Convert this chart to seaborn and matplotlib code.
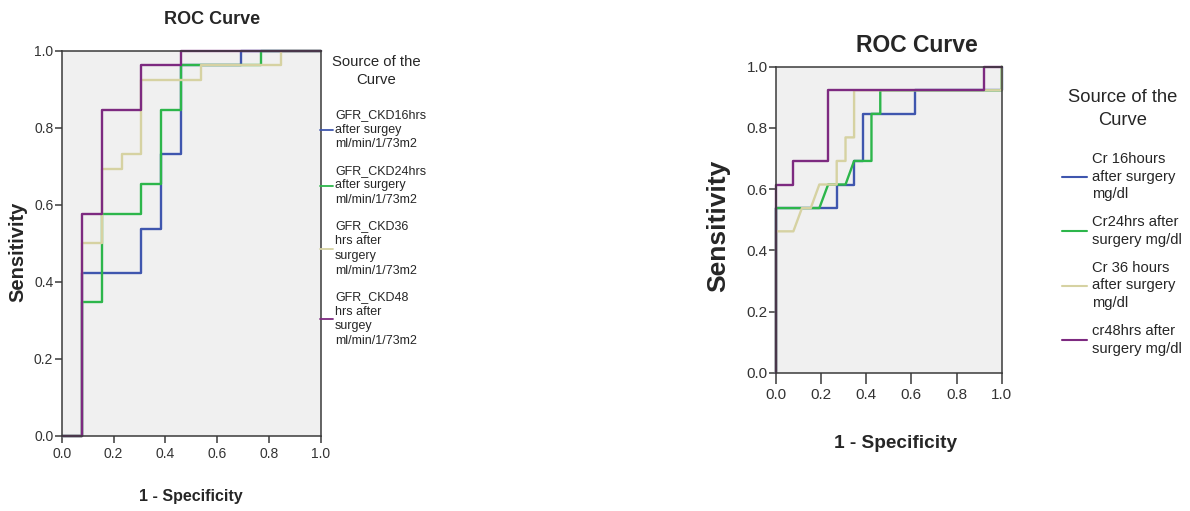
import pandas as pd
import numpy as np
import matplotlib
matplotlib.use("Agg")
import matplotlib.pyplot as plt
import seaborn as sns
from matplotlib.ticker import FormatStrFormatter

# ---- left chart: GFR_CKD (1 - specificity, sensitivity) step points ----
gfr16_fpr = [0.0, 0.077, 0.077, 0.308, 0.308, 0.385, 0.385, 0.462, 0.462, 0.692, 0.692, 1.0]
gfr16_tpr = [0.0, 0.0, 0.423, 0.423, 0.538, 0.538, 0.731, 0.731, 0.962, 0.962, 1.0, 1.0]
gfr24_fpr = [0.0, 0.077, 0.077, 0.154, 0.154, 0.308, 0.308, 0.385, 0.385, 0.462, 0.462, 0.769, 0.769, 1.0]
gfr24_tpr = [0.0, 0.0, 0.346, 0.346, 0.577, 0.577, 0.654, 0.654, 0.846, 0.846, 0.962, 0.962, 1.0, 1.0]
gfr36_fpr = [0.0, 0.077, 0.077, 0.154, 0.154, 0.231, 0.231, 0.308, 0.308, 0.538, 0.538, 0.846, 0.846, 1.0]
gfr36_tpr = [0.0, 0.0, 0.5, 0.5, 0.692, 0.692, 0.731, 0.731, 0.923, 0.923, 0.962, 0.962, 1.0, 1.0]
gfr48_fpr = [0.0, 0.077, 0.077, 0.154, 0.154, 0.308, 0.308, 0.462, 0.462, 1.0]
gfr48_tpr = [0.0, 0.0, 0.577, 0.577, 0.846, 0.846, 0.962, 0.962, 1.0, 1.0]
gfr_labels = ["GFR_CKD16hrs\nafter surgey\nml/min/1/73m2",
              "GFR_CKD24hrs\nafter surgery\nml/min/1/73m2",
              "GFR_CKD36\nhrs after\nsurgery\nml/min/1/73m2",
              "GFR_CKD48\nhrs after\nsurgey\nml/min/1/73m2"]

# ---- right chart: serum creatinine ----
cr16_fpr = [0.0, 0.0, 0.269, 0.269, 0.346, 0.346, 0.385, 0.385, 0.615, 0.615, 1.0, 1.0]
cr16_tpr = [0.0, 0.538, 0.538, 0.615, 0.615, 0.692, 0.692, 0.846, 0.846, 0.923, 0.923, 1.0]
cr24_fpr = [0.0, 0.0, 0.192, 0.231, 0.308, 0.346, 0.423, 0.423, 0.462, 0.462, 1.0, 1.0]
cr24_tpr = [0.0, 0.538, 0.538, 0.615, 0.615, 0.692, 0.692, 0.846, 0.846, 0.923, 0.923, 1.0]
cr36_fpr = [0.0, 0.0, 0.077, 0.115, 0.154, 0.192, 0.269, 0.269, 0.308, 0.308, 0.346, 0.346, 1.0, 1.0]
cr36_tpr = [0.0, 0.462, 0.462, 0.538, 0.538, 0.615, 0.615, 0.692, 0.692, 0.769, 0.769, 0.923, 0.923, 1.0]
cr48_fpr = [0.0, 0.0, 0.077, 0.077, 0.231, 0.231, 0.923, 0.923, 1.0]
cr48_tpr = [0.0, 0.615, 0.615, 0.692, 0.692, 0.923, 0.923, 1.0, 1.0]
cr_labels = ["Cr 16hours\nafter surgery\nmg/dl",
             "Cr24hrs after\nsurgery mg/dl",
             "Cr 36 hours\nafter surgery\nmg/dl",
             "cr48hrs after\nsurgery mg/dl"]

ticks = [0.0, 0.2, 0.4, 0.6, 0.8, 1.0]
colors = ["#3F56AE", "#2DB64B", "#D6D2A2", "#7D2A80"]

FONT = ["Liberation Sans", "DejaVu Sans"]

sns.set_style("white")
plt.rcParams["font.family"] = FONT


def make_df(fprs, tprs, labels):
    parts = []
    for f, t, lab in zip(fprs, tprs, labels):
        parts.append(pd.DataFrame({"fpr": f, "tpr": t, "curve": lab}))
    return pd.concat(parts, ignore_index=True)


def draw_roc(ax, df, labels, tick_size, xtick_len, ytick_len):
    ax.set_facecolor("#F0F0F0")
    sns.lineplot(data=df, x="fpr", y="tpr", hue="curve", hue_order=labels,
                 palette=colors, sort=False, estimator=None, linewidth=1.7,
                 legend=False, ax=ax)
    for ln in ax.get_lines():
        ln.set_clip_on(False)
    ax.set_xlim(0, 1)
    ax.set_ylim(0, 1)
    ax.set_xticks(ticks)
    ax.set_yticks(ticks)
    ax.xaxis.set_major_formatter(FormatStrFormatter("%.1f"))
    ax.yaxis.set_major_formatter(FormatStrFormatter("%.1f"))
    ax.set_xlabel("")
    ax.set_ylabel("")
    for s in ax.spines.values():
        s.set_color("#3A3A3A")
        s.set_linewidth(1.1)
        s.set_visible(True)
    ax.tick_params(axis="x", direction="out", length=xtick_len, width=1.1,
                   color="#3A3A3A", labelsize=tick_size, labelcolor="#333333", pad=3,
                   bottom=True)
    ax.tick_params(axis="y", direction="out", length=ytick_len, width=1.1,
                   color="#3A3A3A", labelsize=tick_size, labelcolor="#333333", pad=1,
                   left=True)


W, H = 1190, 511
fig = plt.figure(figsize=(W / 100, H / 100), dpi=100)

# left chart
ax1 = fig.add_axes([61.7 / W, 1 - 435.7 / H, 259 / W, 385 / H])
df_gfr = make_df([gfr16_fpr, gfr24_fpr, gfr36_fpr, gfr48_fpr],
                 [gfr16_tpr, gfr24_tpr, gfr36_tpr, gfr48_tpr], gfr_labels)
draw_roc(ax1, df_gfr, gfr_labels, 10, 5, 5)
fig.text(212 / W, 1 - 20 / H, "ROC Curve", ha="center", va="center",
         fontsize=13, fontweight="bold")
fig.text(191 / W, 1 - 496 / H, "1 - Specificity", ha="center", va="center",
         fontsize=11.5, fontweight="bold")
fig.text(18 / W, 1 - 252 / H, "Sensitivity", ha="center", va="center",
         rotation=90, fontsize=14.5, fontweight="bold")
fig.text(376 / W, 1 - 71 / H, "Source of the\nCurve", ha="center", va="center",
         fontsize=10.7, linespacing=1.32)
leg1 = ax1.legend(ax1.get_lines(), gfr_labels, loc="upper left",
                  bbox_to_anchor=(320 / W, 1 - 109 / H), bbox_transform=fig.transFigure,
                  frameon=False, fontsize=9, borderpad=0, borderaxespad=0,
                  handlelength=1.05, handletextpad=0.16, labelspacing=1.15)
for t in leg1.get_texts():
    t.set_linespacing(1.3)
for ln in leg1.get_lines():
    ln.set_linewidth(1.3)

# right chart
ax2 = fig.add_axes([776 / W, 1 - 372.7 / H, 225.7 / W, 306 / H])
df_cr = make_df([cr16_fpr, cr24_fpr, cr36_fpr, cr48_fpr],
                [cr16_tpr, cr24_tpr, cr36_tpr, cr48_tpr], cr_labels)
draw_roc(ax2, df_cr, cr_labels, 11, 8, 5)
fig.text(917 / W, 1 - 45 / H, "ROC Curve", ha="center", va="center",
         fontsize=16.5, fontweight="bold")
fig.text(896 / W, 1 - 444 / H, "1 - Specificity", ha="center", va="center",
         fontsize=13.7, fontweight="bold")
fig.text(718 / W, 1 - 226 / H, "Sensitivity", ha="center", va="center",
         rotation=90, fontsize=19, fontweight="bold")
fig.text(1123 / W, 1 - 109 / H, "Source of the\nCurve", ha="center", va="center",
         fontsize=13.2, linespacing=1.42)
leg2 = ax2.legend(ax2.get_lines(), cr_labels, loc="upper left",
                  bbox_to_anchor=(1062 / W, 1 - 152 / H), bbox_transform=fig.transFigure,
                  frameon=False, fontsize=10.6, borderpad=0, borderaxespad=0,
                  handlelength=1.7, handletextpad=0.34, labelspacing=0.95)
for t in leg2.get_texts():
    t.set_linespacing(1.33)
for ln in leg2.get_lines():
    ln.set_linewidth(1.5)

fig.savefig("out.png", dpi=100, facecolor="white")
